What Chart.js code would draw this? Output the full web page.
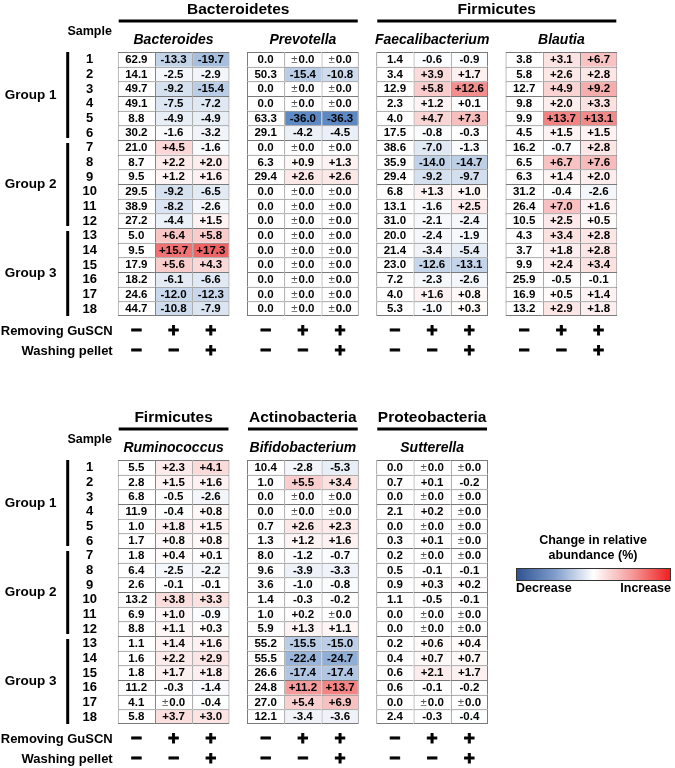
<!DOCTYPE html>
<html>
<head>
<meta charset="utf-8">
<script src="https://cdn.jsdelivr.net/npm/chart.js@4.4.1/dist/chart.umd.min.js"></script>
<style>
  html,body{margin:0;padding:0;background:#fff;}
  #wrap{position:relative;width:675px;height:768px;}
  canvas{position:absolute;left:0;}
</style>
</head>
<body>
<div id="wrap">
  <canvas id="top" width="675" height="384" style="top:0"></canvas>
  <canvas id="bottom" width="675" height="384" style="top:384px"></canvas>
</div>
<script>
// ---------------- DATA ----------------
const sampleLabels = ['1','2','3','4','5','6','7','8','9','10','11','12','13','14','15','16','17','18'];
const groupNames = ['Group 1','Group 2','Group 3'];
const groupSizes = [6, 6, 6];
const removingSigns = ['\u2212','+','+'];
const washingSigns  = ['\u2212','\u2212','+'];
const removingLabel = 'Removing GuSCN';
const washingLabel = 'Washing pellet';

// Top panel
const topPhyla = ['Bacteroidetes', 'Firmicutes'];
const topPhylaSpan = [[0,1],[2,3]];
const topGenera = ['Bacteroides', 'Prevotella', 'Faecalibacterium', 'Blautia'];

const bacteroidesBase = [62.9,14.1,49.7,49.1,8.8,30.2,21.0,8.7,9.5,29.5,38.9,27.2,5.0,9.5,17.9,18.2,24.6,44.7];
const bacteroidesRem  = [-13.3,-2.5,-9.2,-7.5,-4.9,-1.6,4.5,2.2,1.2,-9.2,-8.2,-4.4,6.4,15.7,5.6,-6.1,-12.0,-10.8];
const bacteroidesWash = [-19.7,-2.9,-15.4,-7.2,-4.9,-3.2,-1.6,2.0,1.6,-6.5,-2.6,1.5,5.8,17.3,4.3,-6.6,-12.3,-7.9];

const prevotellaBase = [0.0,50.3,0.0,0.0,63.3,29.1,0.0,6.3,29.4,0.0,0.0,0.0,0.0,0.0,0.0,0.0,0.0,0.0];
const prevotellaRem  = [0,-15.4,0,0,-36.0,-4.2,0,0.9,2.6,0,0,0,0,0,0,0,0,0];
const prevotellaWash = [0,-10.8,0,0,-36.3,-4.5,0,1.3,2.6,0,0,0,0,0,0,0,0,0];

const faecaliBase = [1.4,3.4,12.9,2.3,4.0,17.5,38.6,35.9,29.4,6.8,13.1,31.0,20.0,21.4,23.0,7.2,4.0,5.3];
const faecaliRem  = [-0.6,3.9,5.8,1.2,4.7,-0.8,-7.0,-14.0,-9.2,1.3,-1.6,-2.1,-2.4,-3.4,-12.6,-2.3,1.6,-1.0];
const faecaliWash = [-0.9,1.7,12.6,0.1,7.3,-0.3,-1.3,-14.7,-9.7,1.0,2.5,-2.4,-1.9,-5.4,-13.1,-2.6,0.8,0.3];

const blautiaBase = [3.8,5.8,12.7,9.8,9.9,4.5,16.2,6.5,6.3,31.2,26.4,10.5,4.3,3.7,9.9,25.9,16.9,13.2];
const blautiaRem  = [3.1,2.6,4.9,2.0,13.7,1.5,-0.7,6.7,1.4,-0.4,7.0,2.5,3.4,1.8,2.4,-0.5,0.5,2.9];
const blautiaWash = [6.7,2.8,9.2,3.3,13.1,1.5,2.8,7.6,2.0,-2.6,1.6,0.5,2.8,2.8,3.4,-0.1,1.4,1.8];

// Bottom panel
const bottomPhyla = ['Firmicutes', 'Actinobacteria', 'Proteobacteria'];
const bottomPhylaSpan = [[0,0],[1,1],[2,2]];
const bottomGenera = ['Ruminococcus', 'Bifidobacterium', 'Sutterella'];

const ruminoBase = [5.5,2.8,6.8,11.9,1.0,1.7,1.8,6.4,2.6,13.2,6.9,8.8,1.1,1.6,1.8,11.2,4.1,5.8];
const ruminoRem  = [2.3,1.5,-0.5,-0.4,1.8,0.8,0.4,-2.5,-0.1,3.8,1.0,1.1,1.4,2.2,1.7,-0.3,0.0,3.7];
const ruminoWash = [4.1,1.6,-2.6,0.8,1.5,0.8,0.1,-2.2,-0.1,3.3,-0.9,0.3,1.6,2.9,1.8,-1.4,-0.4,3.0];

const bifidoBase = [10.4,1.0,0.0,0.0,0.7,1.3,8.0,9.6,3.6,1.4,1.0,5.9,55.2,55.5,26.6,24.8,27.0,12.1];
const bifidoRem  = [-2.8,5.5,0,0,2.6,1.2,-1.2,-3.9,-1.0,-0.3,0.2,1.3,-15.5,-22.4,-17.4,11.2,5.4,-3.4];
const bifidoWash = [-5.3,3.4,0,0,2.3,1.6,-0.7,-3.3,-0.8,-0.2,0.0,1.1,-15.0,-24.7,-17.4,13.7,6.9,-3.6];

const sutterBase = [0.0,0.7,0.0,2.1,0.0,0.3,0.2,0.5,0.9,1.1,0.0,0.0,0.2,0.4,0.6,0.6,0.0,2.4];
const sutterRem  = [0,0.1,0,0.2,0,0.1,0,-0.1,0.3,-0.5,0,0,0.6,0.7,2.1,-0.1,0,-0.3];
const sutterWash = [0,-0.2,0,0,0,0,0,-0.1,0.2,-0.1,0,0,0.4,0.7,1.7,-0.2,0,-0.4];

const legendTitle = ['Change in relative', 'abundance (%)'];
const legendEnds = ['Decrease', 'Increase'];

// ---------------- HELPERS ----------------
const FONT = '"Liberation Sans", Arial, sans-serif';
const PITCH = 3.47;          // table pitch in column units
const XMAX = 3 * PITCH + 3;  // x-axis extent

function changeColor(v) {
  if (v < 0) {
    const t = Math.min(-v / 40, 1);
    return `rgb(${Math.round(255-180*t)},${Math.round(255-130*t)},${Math.round(255-65*t)})`;
  } else if (v > 0) {
    const t = Math.min(v / 24, 1);
    return `rgb(${Math.round(255-23*t)},${Math.round(255-215*t)},${Math.round(255-215*t)})`;
  }
  return '#ffffff';
}
function fmtBase(v) { return v.toFixed(1); }
function fmtChange(v) {
  if (v > 0) return '+' + v.toFixed(1);
  if (v < 0) return '-' + Math.abs(v).toFixed(1);
  return '\u00b10.0';
}

function buildDatasets(tables) {
  const ds = [];
  tables.forEach((tb, t) => {
    const cols = [tb.base, tb.rem, tb.wash];
    cols.forEach((vals, c) => {
      const x0 = t * PITCH + c;
      ds.push({
        data: vals.map(() => [x0, x0 + 1]),
        texts: vals.map(v => c === 0 ? fmtBase(v) : fmtChange(v)),
        backgroundColor: vals.map(v => c === 0 ? '#ffffff' : changeColor(v)),
        borderColor: '#7a7a7a',
        borderWidth: (ctx) => ({
          left: 1, top: 1,
          right: c === 2 ? 1 : 0,
          bottom: ctx.dataIndex === vals.length - 1 ? 1 : 0
        }),
        borderSkipped: false,
        inflateAmount: 0,
        grouped: false,
        categoryPercentage: 1,
        barPercentage: 1
      });
    });
  });
  return ds;
}

const labelPlugin = {
  id: 'tableLabels',
  afterDatasetsDraw(chart, args, opts) {
    const ctx = chart.ctx;
    const xs = chart.scales.x, ys = chart.scales.y, ca = chart.chartArea;
    const rowH = ys.getPixelForValue(1) - ys.getPixelForValue(0);
    ctx.save();
    ctx.fillStyle = '#000';
    ctx.textBaseline = 'middle';

    // cell texts
    ctx.font = `bold 11.5px ${FONT}`;
    chart.data.datasets.forEach((ds, di) => {
      const meta = chart.getDatasetMeta(di);
      meta.data.forEach((el, i) => {
        const cx = (el.x + el.base) / 2;
        const cy = el.y + 0.5;
        const s = ds.texts[i];
        if (s.charAt(0) === '\u00b1') {
          const rest = s.slice(1);
          ctx.font = `11.5px ${FONT}`;
          const w1 = ctx.measureText('\u00b1').width;
          ctx.font = `bold 11.5px ${FONT}`;
          const w2 = ctx.measureText(rest).width;
          const start = cx - (w1 + w2 + 1) / 2;
          ctx.textAlign = 'left';
          ctx.font = `11.5px ${FONT}`;
          ctx.fillStyle = '#555';
          ctx.fillText('\u00b1', start, cy);
          ctx.fillStyle = '#000';
          ctx.font = `bold 11.5px ${FONT}`;
          ctx.fillText(rest, start + w1 + 1, cy);
        } else {
          ctx.textAlign = 'center';
          ctx.fillText(s, cx, cy);
        }
      });
    });

    const tableLeft = t => xs.getPixelForValue(t * PITCH);
    const tableRight = t => xs.getPixelForValue(t * PITCH + 3);

    // phylum titles + underline
    opts.phyla.forEach((name, p) => {
      const [a, b] = opts.phylaSpan[p];
      const l = tableLeft(a) + 1, r = tableRight(b) - 1;
      ctx.fillRect(l, ca.top - 32.5, r - l, 3);
      ctx.textAlign = 'center';
      ctx.font = `bold 15.5px ${FONT}`;
      ctx.fillText(name, (l + r) / 2, ca.top - 42);
    });

    // genus names
    ctx.font = `italic bold 14px ${FONT}`;
    ctx.textAlign = 'center';
    opts.genera.forEach((g, t) => {
      ctx.fillText(g, (tableLeft(t) + tableRight(t)) / 2, ca.top - 12);
    });

    // Sample header
    ctx.font = `bold 12.5px ${FONT}`;
    ctx.fillText('Sample', ca.left - 28, ca.top - 20);

    // row numbers
    ctx.font = `bold 13px ${FONT}`;
    sampleLabels.forEach((s, i) => {
      ctx.fillText(s, ca.left - 28, ys.getPixelForValue(i) + 0.5);
    });

    // group bars and labels
    let start = 0;
    groupSizes.forEach((n, g) => {
      const end = start + n - 1;
      const yTop = ys.getPixelForValue(start) - rowH / 2 + (start === 0 ? 0 : 3);
      const yBot = ys.getPixelForValue(end) + rowH / 2 - (end === sampleLabels.length - 1 ? 0 : 2);
      ctx.fillRect(ca.left - 51.5, yTop, 3, yBot - yTop);
      ctx.font = `bold 13.5px ${FONT}`;
      ctx.textAlign = 'center';
      ctx.fillText(groupNames[g], ca.left - 87, (yTop + yBot) / 2);
      start += n;
    });

    // condition rows
    ctx.font = `bold 13px ${FONT}`;
    ctx.textAlign = 'right';
    ctx.fillText(removingLabel, ca.left - 5, ca.bottom + 15);
    ctx.fillText(washingLabel, ca.left - 5, ca.bottom + 35);
    ctx.font = `bold 19px ${FONT}`;
    ctx.textAlign = 'center';
    ctx.strokeStyle = '#000';
    ctx.lineWidth = 0.9;
    opts.genera.forEach((g, t) => {
      for (let c = 0; c < 3; c++) {
        const cx = xs.getPixelForValue(t * PITCH + c + 0.5);
        ctx.fillText(removingSigns[c], cx, ca.bottom + 15);
        ctx.strokeText(removingSigns[c], cx, ca.bottom + 15);
        ctx.fillText(washingSigns[c], cx, ca.bottom + 35);
        ctx.strokeText(washingSigns[c], cx, ca.bottom + 35);
      }
    });

    // color legend
    if (opts.legend) {
      ctx.font = `bold 12.5px ${FONT}`;
      ctx.textAlign = 'center';
      ctx.fillText(legendTitle[0], 593, 157);
      ctx.fillText(legendTitle[1], 593, 172);
      const bx = 516, by = 184, bw = 155, bh = 13;
      const grad = ctx.createLinearGradient(bx, 0, bx + bw, 0);
      grad.addColorStop(0, '#2d5290');
      grad.addColorStop(0.25, '#7f9ccb');
      grad.addColorStop(0.5, '#ffffff');
      grad.addColorStop(0.75, '#f59a9a');
      grad.addColorStop(1, '#f01c1c');
      ctx.fillStyle = grad;
      ctx.fillRect(bx, by, bw, bh);
      ctx.strokeStyle = '#333';
      ctx.lineWidth = 1;
      ctx.strokeRect(bx + 0.5, by + 0.5, bw - 1, bh - 1);
      ctx.fillStyle = '#000';
      ctx.font = `bold 12.5px ${FONT}`;
      ctx.textAlign = 'left';
      ctx.fillText(legendEnds[0], bx, by + bh + 8);
      ctx.textAlign = 'right';
      ctx.fillText(legendEnds[1], bx + bw, by + bh + 8);
    }
    ctx.restore();
  }
};

function makeChart(id, tables, phyla, phylaSpan, genera, padding, legend) {
  return new Chart(document.getElementById(id), {
    type: 'bar',
    data: { labels: sampleLabels, datasets: buildDatasets(tables) },
    options: {
      indexAxis: 'y',
      responsive: false,
      devicePixelRatio: 1,
      animation: false,
      events: [],
      layout: { padding },
      scales: {
        x: { type: 'linear', min: 0, max: XMAX, display: false },
        y: { type: 'category', display: false, offset: true }
      },
      plugins: {
        legend: { display: false },
        tooltip: { enabled: false },
        tableLabels: { phyla, phylaSpan, genera, legend }
      }
    },
    plugins: [labelPlugin]
  });
}

makeChart('top', [
  { base: bacteroidesBase, rem: bacteroidesRem, wash: bacteroidesWash },
  { base: prevotellaBase, rem: prevotellaRem, wash: prevotellaWash },
  { base: faecaliBase, rem: faecaliRem, wash: faecaliWash },
  { base: blautiaBase, rem: blautiaRem, wash: blautiaWash }
], topPhyla, topPhylaSpan, topGenera, { left: 117.7, right: 57.7, top: 52, bottom: 68 }, false);

makeChart('bottom', [
  { base: ruminoBase, rem: ruminoRem, wash: ruminoWash },
  { base: bifidoBase, rem: bifidoRem, wash: bifidoWash },
  { base: sutterBase, rem: sutterRem, wash: sutterWash }
], bottomPhyla, bottomPhylaSpan, bottomGenera, { left: 117.7, right: 57.7, top: 76, bottom: 44 }, true);
</script>
</body>
</html>
